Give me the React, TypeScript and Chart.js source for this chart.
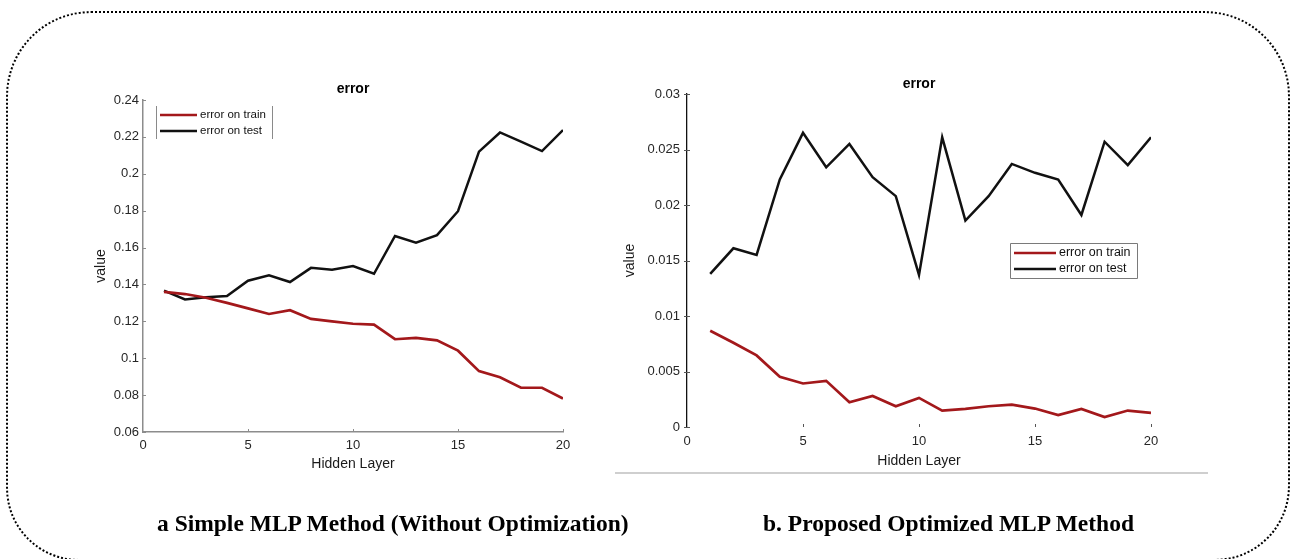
import React, { useEffect, useRef } from 'react';
import { Chart, registerables } from 'chart.js';

Chart.register(...registerables);

// Hidden layer counts on the x axis
const hiddenLayers = [1, 2, 3, 4, 5, 6, 7, 8, 9, 10, 11, 12, 13, 14, 15, 16, 17, 18, 19, 20];

// (a) simple MLP, no optimization
const simpleTrainError = [
  0.136, 0.1348, 0.1328, 0.13, 0.127, 0.124, 0.126, 0.1213, 0.12, 0.1187,
  0.1182, 0.1103, 0.111, 0.1097, 0.1041, 0.093, 0.0897, 0.084, 0.084, 0.0782,
];
const simpleTestError = [
  0.1366, 0.1319, 0.133, 0.1337, 0.142, 0.145, 0.1413, 0.149, 0.148, 0.15,
  0.1458, 0.1663, 0.1627, 0.1667, 0.1797, 0.212, 0.2224, 0.2174, 0.2123, 0.2237,
];

// (b) proposed optimized MLP
const optimizedTrainError = [
  0.00867, 0.00759, 0.00645, 0.00452, 0.00392, 0.00416, 0.00223, 0.0028, 0.00187, 0.00262,
  0.00148, 0.00163, 0.00187, 0.00202, 0.00166, 0.00108, 0.00163, 0.0009, 0.00148, 0.00127,
];
const optimizedTestError = [
  0.0138, 0.0161, 0.0155, 0.0223, 0.0265, 0.0234, 0.0255, 0.0225, 0.0208, 0.0137,
  0.0261, 0.0186, 0.0208, 0.0237, 0.0229, 0.0223, 0.0191, 0.0257, 0.0236, 0.0261,
];

// Axis ticks
const xTickValues = [0, 5, 10, 15, 20];
const xTickLabels = ['0', '5', '10', '15', '20'];
const simpleYTickValues = [0.06, 0.08, 0.1, 0.12, 0.14, 0.16, 0.18, 0.2, 0.22, 0.24];
const simpleYTickLabels = ['0.06', '0.08', '0.1', '0.12', '0.14', '0.16', '0.18', '0.2', '0.22', '0.24'];
const optimizedYTickValues = [0, 0.005, 0.01, 0.015, 0.02, 0.025, 0.03];
const optimizedYTickLabels = ['0', '0.005', '0.01', '0.015', '0.02', '0.025', '0.03'];

// Text
const seriesLabels = ['error on train', 'error on test'];
const plotTitle = 'error';
const xAxisTitle = 'Hidden Layer';
const yAxisTitle = 'value';
const captionA = 'a Simple MLP Method (Without Optimization)';
const captionB = 'b. Proposed Optimized MLP Method';

const SANS = '"Liberation Sans", Arial, Helvetica, sans-serif';
const TRAIN_COLOR = '#a3181b';
const TEST_COLOR = '#111111';

// Draws the plot title, inward tick marks and the legend box.
const decorPlugin = {
  id: 'decor',
  afterDraw(chart: any, _args: any, opts: any) {
    const { ctx, chartArea: a, scales } = chart;
    ctx.save();

    ctx.font = `bold 14px ${SANS}`;
    ctx.fillStyle = '#000';
    ctx.textAlign = 'center';
    ctx.textBaseline = 'middle';
    ctx.fillText(opts.title, (a.left + a.right) / 2, a.top + opts.titleOffset);

    ctx.strokeStyle = opts.tickColor;
    ctx.lineWidth = 1;
    const xs = scales.x;
    const ys = scales.y;
    xs.ticks.forEach((t: any) => {
      const px = Math.round(xs.getPixelForValue(t.value)) + 0.5;
      if (px <= a.left + 2) return;
      ctx.beginPath();
      ctx.moveTo(px, a.bottom + opts.xTickOut);
      ctx.lineTo(px, a.bottom - opts.tickIn);
      ctx.stroke();
    });
    ys.ticks.forEach((t: any) => {
      const py = Math.round(ys.getPixelForValue(t.value)) + 0.5;
      ctx.beginPath();
      ctx.moveTo(a.left - opts.yTickOut, py);
      ctx.lineTo(a.left + opts.tickIn, py);
      ctx.stroke();
    });

    const lg = opts.legend;
    const bx = a.left + lg.dx;
    const by = a.top + lg.dy;
    ctx.fillStyle = '#fff';
    ctx.fillRect(bx, by, lg.w, lg.h);
    ctx.strokeStyle = lg.borderColor;
    ctx.lineWidth = 1;
    ctx.beginPath();
    if (lg.fullBorder) {
      ctx.rect(bx + 0.5, by + 0.5, lg.w, lg.h);
    } else {
      ctx.moveTo(bx + 0.5, by);
      ctx.lineTo(bx + 0.5, by + lg.h);
      ctx.moveTo(bx + lg.w + 0.5, by);
      ctx.lineTo(bx + lg.w + 0.5, by + lg.h);
    }
    ctx.stroke();
    ctx.font = `${lg.fontSize}px ${SANS}`;
    ctx.textAlign = 'left';
    ctx.textBaseline = 'middle';
    chart.data.datasets.forEach((ds: any, i: number) => {
      const ry = by + lg.firstRow + i * lg.rowGap;
      ctx.strokeStyle = ds.borderColor;
      ctx.lineWidth = 2.6;
      ctx.beginPath();
      ctx.moveTo(bx + 4, ry);
      ctx.lineTo(bx + 4 + lg.lineLen, ry);
      ctx.stroke();
      ctx.fillStyle = '#111';
      ctx.fillText(ds.label, bx + 7 + lg.lineLen, ry);
    });
    ctx.restore();
  },
};

function buildConfig(s: any): any {
  const toPoints = (vals: number[]) => hiddenLayers.map((x, i) => ({ x, y: vals[i] }));
  return {
    type: 'line',
    data: {
      datasets: [
        { label: seriesLabels[0], data: toPoints(s.train), borderColor: TRAIN_COLOR, borderWidth: 2.7, pointRadius: 0, tension: 0 },
        { label: seriesLabels[1], data: toPoints(s.test), borderColor: TEST_COLOR, borderWidth: 2.5, pointRadius: 0, tension: 0 },
      ],
    },
    plugins: [decorPlugin],
    options: {
      responsive: false,
      animation: false,
      events: [],
      layout: { padding: s.padding },
      plugins: {
        legend: { display: false },
        tooltip: { enabled: false },
        title: { display: false },
        decor: s.decor,
      },
      scales: {
        x: {
          type: 'linear',
          min: 0,
          max: 20,
          afterBuildTicks: (scale: any) => {
            scale.ticks = xTickValues.map((v) => ({ value: v }));
          },
          afterFit: (scale: any) => {
            scale.height = 50;
          },
          grid: { display: false, drawTicks: false },
          border: s.xBorder,
          ticks: {
            padding: s.xTickPad,
            color: '#262626',
            font: { family: SANS, size: 13 },
            maxRotation: 0,
            callback: (_v: any, i: number) => xTickLabels[i],
          },
          title: {
            display: true,
            text: xAxisTitle,
            color: '#1a1a1a',
            font: { family: SANS, size: 14 },
            padding: { top: 0, bottom: s.xTitlePad },
          },
        },
        y: {
          type: 'linear',
          min: s.yMin,
          max: s.yMax,
          afterBuildTicks: (scale: any) => {
            scale.ticks = s.yTickValues.map((v: number) => ({ value: v }));
          },
          afterFit: (scale: any) => {
            scale.width = s.yWidth;
          },
          grid: { display: false, drawTicks: false },
          border: s.yBorder,
          ticks: {
            padding: s.yTickPad,
            color: '#262626',
            font: { family: SANS, size: 13 },
            callback: (_v: any, i: number) => s.yTickLabels[i],
          },
          title: {
            display: true,
            text: yAxisTitle,
            color: '#1a1a1a',
            font: { family: SANS, size: 14 },
            padding: { top: s.yTitlePad, bottom: 0 },
          },
        },
      },
    },
  };
}

export default function App() {
  const leftRef = useRef<HTMLCanvasElement>(null);
  const rightRef = useRef<HTMLCanvasElement>(null);

  useEffect(() => {
    const left = new Chart(
      leftRef.current as HTMLCanvasElement,
      buildConfig({
        train: simpleTrainError,
        test: simpleTestError,
        yMin: 0.06,
        yMax: 0.24,
        yTickValues: simpleYTickValues,
        yTickLabels: simpleYTickLabels,
        padding: { left: 83, right: 727, top: 100, bottom: 77 },
        yWidth: 60,
        yTickPad: 4,
        xTickPad: 6,
        yTitlePad: 9.6,
        xTitlePad: 9.6,
        yBorder: { display: true, color: '#8c8c8c', width: 1.5 },
        xBorder: { display: true, color: '#8c8c8c', width: 1.5 },
        decor: {
          title: plotTitle,
          titleOffset: -11,
          tickColor: '#8c8c8c',
          tickIn: 3,
          xTickOut: 0,
          yTickOut: 0,
          legend: { dx: 13, dy: 6, w: 116, h: 33, fullBorder: false, borderColor: '#8a8a8a', firstRow: 9, rowGap: 16, lineLen: 37, fontSize: 11.5 },
        },
      })
    );
    const right = new Chart(
      rightRef.current as HTMLCanvasElement,
      buildConfig({
        train: optimizedTrainError,
        test: optimizedTestError,
        yMin: 0,
        yMax: 0.03,
        yTickValues: optimizedYTickValues,
        yTickLabels: optimizedYTickLabels,
        padding: { left: 621, right: 139, top: 94, bottom: 82 },
        yWidth: 66,
        yTickPad: 7,
        xTickPad: 7,
        yTitlePad: 0.6,
        xTitlePad: 7.6,
        yBorder: { display: true, color: '#111', width: 1.3 },
        xBorder: { display: false },
        decor: {
          title: plotTitle,
          titleOffset: -10,
          tickColor: '#555',
          tickIn: 3,
          xTickOut: 0,
          yTickOut: 3,
          legend: { dx: 323, dy: 149, w: 127, h: 35, fullBorder: true, borderColor: '#7a7a7a', firstRow: 10, rowGap: 16, lineLen: 42, fontSize: 12.5 },
        },
      })
    );
    return () => {
      left.destroy();
      right.destroy();
    };
  }, []);

  const captionStyle: React.CSSProperties = {
    position: 'absolute',
    top: 512,
    fontFamily: '"Liberation Serif", "Times New Roman", serif',
    fontWeight: 'bold',
    fontSize: 23.5,
    lineHeight: '23.5px',
    color: '#000',
    whiteSpace: 'nowrap',
  };

  return (
    <div style={{ position: 'fixed', left: 0, top: 0, width: 1290, height: 559, overflow: 'hidden', background: '#fff' }}>
      <div
        style={{
          position: 'absolute',
          left: 6,
          top: 11,
          width: 1284,
          height: 550,
          boxSizing: 'border-box',
          border: '2.5px dotted #000',
          borderRadius: '85px 85px 75px 73px',
        }}
      />
      <div style={{ position: 'absolute', left: 615, top: 472, width: 593, height: 1.5, background: '#cfcfcf' }} />
      <canvas ref={leftRef} width={1290} height={559} style={{ position: 'absolute', left: 0, top: 0 }} />
      <canvas ref={rightRef} width={1290} height={559} style={{ position: 'absolute', left: 0, top: 0 }} />
      <div style={{ ...captionStyle, left: 157 }}>{captionA}</div>
      <div style={{ ...captionStyle, left: 763 }}>{captionB}</div>
    </div>
  );
}
